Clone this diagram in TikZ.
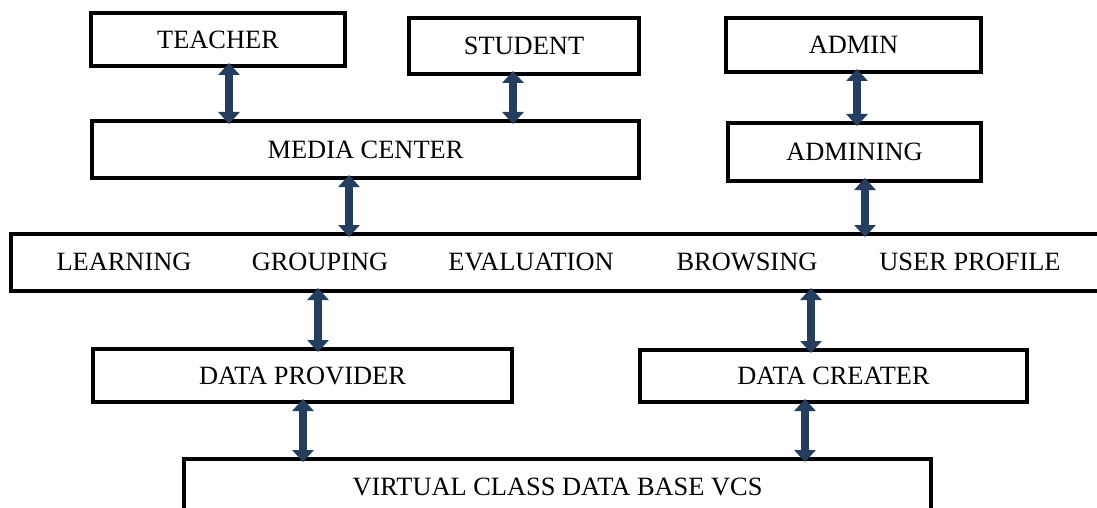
\documentclass[tikz,border=0pt]{standalone}
\usepackage{fontspec}
\setmainfont{Liberation Serif}
\usetikzlibrary{arrows.meta}
\definecolor{arrowblue}{RGB}{36,62,96}
\tikzset{
  box/.style={draw=black, line width=4.5pt, fill=white, outer sep=0pt, inner sep=0pt,
    font=\fontsize{26.4}{30}\selectfont, text height=17.5pt, text depth=0pt},
  lbl/.style={font=\fontsize{26.4}{30}\selectfont, inner sep=0pt, text height=17.5pt, text depth=0pt},
  dbl/.style={draw=arrowblue, line width=8pt,
    {Triangle[width=21pt,length=12pt]}-{Triangle[width=21pt,length=12pt]},
    shorten <=-3pt, shorten >=-3pt}
}
\begin{document}
\begin{tikzpicture}[x=1pt,y=-1pt]
\useasboundingbox (0,0) rectangle (1097,508);
\clip (0,0) rectangle (1097,508);
\fill[white] (0,0) rectangle (1097,508);

\node[box, minimum width=254pt, minimum height=53pt] (teacher) at (218,39.5) {TEACHER};
\node[box, minimum width=230pt, minimum height=56pt] (student) at (524,46) {STUDENT};
\node[box, minimum width=255pt, minimum height=54pt] (admin) at (853.5,45) {ADMIN};
\node[box, minimum width=547pt, minimum height=57pt] (media) at (365.5,149.5) {MEDIA CENTER};
\node[box, minimum width=253pt, minimum height=58pt] (admining) at (854.5,152) {ADMINING};
\node[box, minimum width=1099pt, minimum height=57pt] (main) at (560.5,262.5) {};
\node[lbl] (learning) at (124,262) {LEARNING};
\node[lbl] (grouping) at (320,262) {GROUPING};
\node[lbl] (evaluation) at (531,262) {EVALUATION};
\node[lbl] (browsing) at (747,262) {BROWSING};
\node[lbl] (profile) at (970,262) {USER PROFILE};
\node[box, minimum width=419pt, minimum height=53pt] (provider) at (302.5,375.5) {DATA PROVIDER};
\node[box, minimum width=387pt, minimum height=52pt] (creater) at (833.5,376) {DATA CREATER};
\node[box, minimum width=747pt, minimum height=56pt] (vcs) at (557.5,487) {VIRTUAL CLASS DATA BASE VCS};

\draw[dbl] ([xshift=11pt]teacher.south) -- ([xshift=11pt]teacher.south |- media.north);
\draw[dbl] ([xshift=-11pt]student.south) -- ([xshift=-11pt]student.south |- media.north);
\draw[dbl] ([xshift=3.5pt]admin.south) -- ([xshift=3.5pt]admin.south |- admining.north);
\draw[dbl] ([xshift=-16.5pt]media.south) -- ([xshift=-16.5pt]media.south |- main.north);
\draw[dbl] ([xshift=10.5pt]admining.south) -- ([xshift=10.5pt]admining.south |- main.north);
\draw[dbl] ([xshift=15.5pt]provider.north |- main.south) -- ([xshift=15.5pt]provider.north);
\draw[dbl] ([xshift=0.5pt]provider.south) -- ([xshift=0.5pt]provider.south |- vcs.north);
\draw[dbl] ([xshift=-22.5pt]creater.north |- main.south) -- ([xshift=-22.5pt]creater.north);
\draw[dbl] ([xshift=-28.5pt]creater.south) -- ([xshift=-28.5pt]creater.south |- vcs.north);
\end{tikzpicture}
\end{document}
